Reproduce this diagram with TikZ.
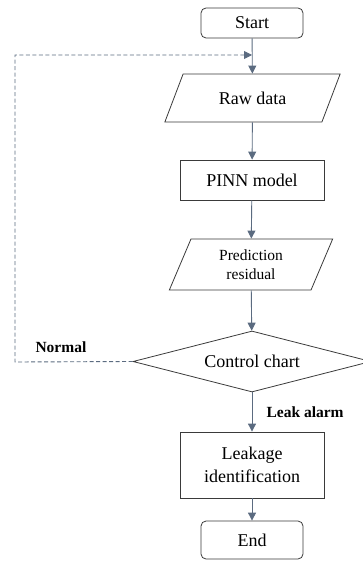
\documentclass[tikz,border=0pt]{standalone}
\usepackage{fontspec}
\setmainfont{Liberation Serif}
\usetikzlibrary{shapes.geometric,arrows.meta}
\definecolor{flowline}{HTML}{5B6B80}
\definecolor{boxline}{HTML}{3A3A3A}
\begin{document}
\begin{tikzpicture}[x=1pt,y=-1pt,
    box/.style={draw=boxline,line width=0.8pt,align=center,font=\fontsize{18}{19}\selectfont,inner sep=0pt},
    term/.style={box,rounded corners=5pt,minimum width=102pt,minimum height=30pt},
    proc/.style={box,minimum width=144pt},
    datain/.style={box,trapezium,trapezium left angle=#1,trapezium right angle=180-#1,trapezium stretches=true},
    flow/.style={draw=flowline,line width=0.9pt,-{Triangle[length=8pt,width=8pt]}},
    tag/.style={font=\fontsize{15.5}{16}\selectfont\bfseries}]
  \useasboundingbox (0,0) rectangle (362,561);
  % main column
  \node[term] (start) at (252,23) {Start};
  \node[datain=55,minimum width=176pt,minimum height=48pt] (raw) at (252.5,98) {Raw data};
  \node[proc,minimum height=40pt] (pinn) at (252,180) {PINN model};
  \node[datain=69,minimum width=164pt,minimum height=51pt,font=\fontsize{15.5}{19}\selectfont] (resid) at (251,264.5) {Prediction\\residual};
  \node[box,diamond,aspect=3.9,minimum width=238pt,minimum height=61pt] (ctrl) at (252,361.5) {Control chart};
  \node[proc,minimum height=66pt,font=\fontsize{18}{23}\selectfont] (leak) at (252,465) {Leakage\\identification};
  \node[term,minimum height=38pt] (end) at (252,540) {End};
  % arrows
  \coordinate (merge) at (252,55);
  \draw[flow] (start) -- (raw);
  \draw[flow] (raw) -- (pinn);
  \draw[flow] (pinn) -- (resid);
  \draw[flow] (resid) -- (ctrl);
  \draw[flow] (ctrl) -- (leak);
  \draw[flow] (leak) -- (end);
  % normal loop back
  \coordinate (cornerL) at (15,362);
  \draw[flow,dash pattern=on 4pt off 2.5pt] (ctrl.west) -- (cornerL) |- (merge);
  \node[tag,anchor=west] (normal) at (32,347) {Normal};
  \node[tag,anchor=west] (alarm) at (263,412) {Leak alarm};
\end{tikzpicture}
\end{document}
